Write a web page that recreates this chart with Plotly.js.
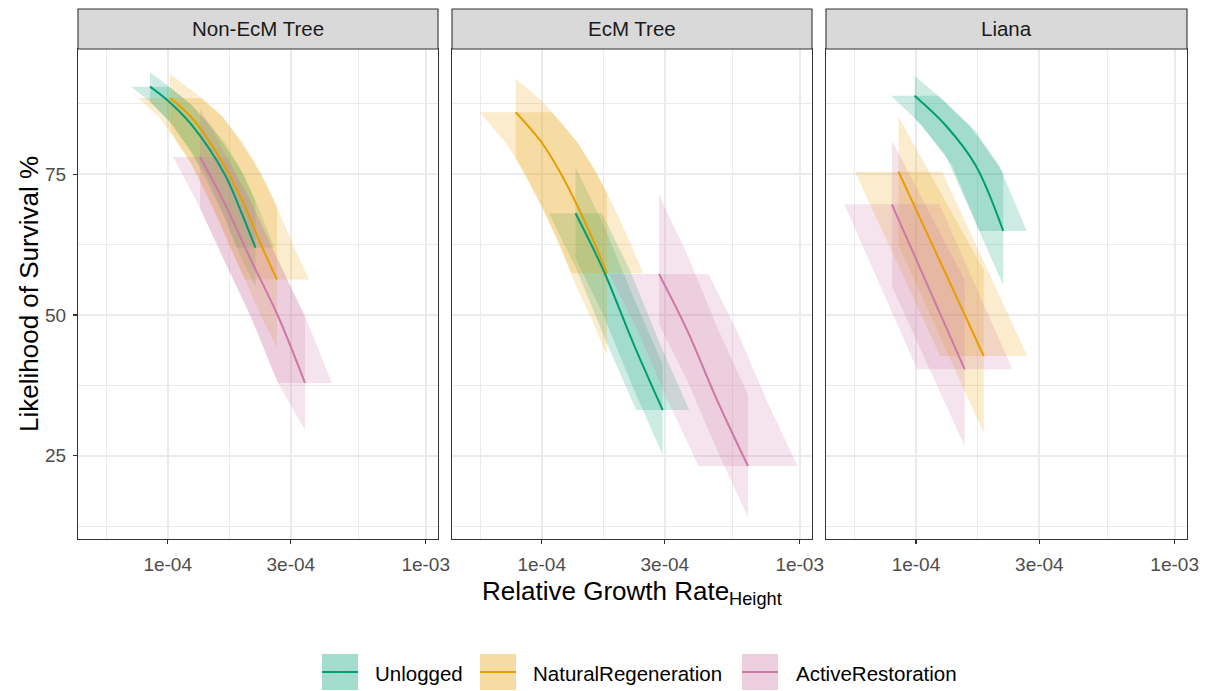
<!DOCTYPE html>
<html>
<head>
<meta charset="utf-8">
<script src="https://cdn.plot.ly/plotly-3.0.1.min.js"></script>
<style>
html,body{margin:0;padding:0;background:#fff;}
#chart{width:1207px;height:691px;}
</style>
</head>
<body>
<div id="chart"></div>
<script>
// ---------------- DATA ----------------
const panels = ['Non-EcM Tree', 'EcM Tree', 'Liana'];
const groups = ['Unlogged', 'NaturalRegeneration', 'ActiveRestoration'];
const groupColors = ['#009E73', '#E69F00', '#CC79A7'];
const xTickVals = [1e-4, 3e-4, 1e-3];
const xTickText = ['1e-04', '3e-04', '1e-03'];
const yTickVals = [25, 50, 75];

// Non-EcM Tree
const nonEcm_Unlogged_x   = [8.54e-5, 1.005e-4, 1.239e-4, 1.668e-4, 1.906e-4, 2.189e-4];
const nonEcm_Unlogged_y   = [90.57, 88.02, 83.76, 74.88, 68.83, 61.96];
const nonEcm_Unlogged_yHi = [93.12, 90.69, 87.31, 80.56, 76.12, 70.26];
const nonEcm_Unlogged_yLo = [87.90, 84.65, 78.96, 67.24, 60.66, 54.98];
const nonEcm_Unlogged_xLo = [7.21e-5, 8.48e-5, 1.046e-4, 1.408e-4, 1.609e-4, 1.848e-4];
const nonEcm_Unlogged_xHi = [1.012e-4, 1.191e-4, 1.468e-4, 1.976e-4, 2.258e-4, 2.593e-4];

const nonEcm_Natural_x   = [1.021e-4, 1.242e-4, 1.609e-4, 1.941e-4, 2.320e-4, 2.652e-4];
const nonEcm_Natural_y   = [88.56, 85.00, 77.54, 70.43, 62.08, 56.31];
const nonEcm_Natural_yHi = [92.82, 89.89, 85.54, 80.79, 74.88, 69.19];
const nonEcm_Natural_yLo = [82.87, 76.65, 65.81, 57.46, 49.47, 44.31];
const nonEcm_Natural_xLo = [7.67e-5, 9.34e-5, 1.209e-4, 1.459e-4, 1.744e-4, 1.993e-4];
const nonEcm_Natural_xHi = [1.358e-4, 1.652e-4, 2.141e-4, 2.582e-4, 3.087e-4, 3.529e-4];

const nonEcm_Active_x   = [1.334e-4, 1.638e-4, 2.085e-4, 2.676e-4, 3.405e-4];
const nonEcm_Active_y   = [78.07, 70.43, 60.13, 49.82, 37.92];
const nonEcm_Active_yHi = [86.78, 79.14, 70.43, 59.77, 49.64];
const nonEcm_Active_yLo = [69.01, 60.13, 49.82, 37.92, 29.57];
const nonEcm_Active_xLo = [1.048e-4, 1.287e-4, 1.638e-4, 2.103e-4, 2.676e-4];
const nonEcm_Active_xHi = [1.698e-4, 2.084e-4, 2.653e-4, 3.405e-4, 4.333e-4];

// EcM Tree
const ecm_Unlogged_x   = [1.352e-4, 1.733e-4, 2.265e-4, 2.944e-4];
const ecm_Unlogged_y   = [68.07, 58.00, 44.97, 33.12];
const ecm_Unlogged_yHi = [76.24, 66.17, 53.15, 41.29];
const ecm_Unlogged_yLo = [60.07, 50.00, 36.98, 25.12];
const ecm_Unlogged_xLo = [1.067e-4, 1.368e-4, 1.788e-4, 2.325e-4];
const ecm_Unlogged_xHi = [1.712e-4, 2.195e-4, 2.868e-4, 3.729e-4];

const ecm_Natural_x   = [7.93e-5, 1.003e-4, 1.177e-4, 1.370e-4, 1.581e-4, 1.791e-4];
const ecm_Natural_y   = [86.02, 80.56, 75.41, 69.55, 63.33, 57.41];
const ecm_Natural_yHi = [91.93, 88.02, 84.47, 80.74, 76.30, 71.68];
const ecm_Natural_yLo = [77.90, 69.19, 62.44, 54.80, 48.76, 42.71];
const ecm_Natural_xLo = [5.75e-5, 7.27e-5, 8.54e-5, 9.94e-5, 1.147e-4, 1.299e-4];
const ecm_Natural_xHi = [1.093e-4, 1.383e-4, 1.623e-4, 1.889e-4, 2.180e-4, 2.469e-4];

const ecm_Active_x   = [2.849e-4, 3.658e-4, 4.781e-4, 6.304e-4];
const ecm_Active_y   = [57.29, 47.33, 34.90, 23.17];
const ecm_Active_yHi = [71.32, 60.84, 47.87, 35.79];
const ecm_Active_yLo = [48.40, 38.45, 26.01, 14.11];
const ecm_Active_xLo = [1.831e-4, 2.351e-4, 3.073e-4, 4.052e-4];
const ecm_Active_xHi = [4.432e-4, 5.690e-4, 7.437e-4, 9.807e-4];

// Liana
const liana_Unlogged_x   = [9.88e-5, 1.299e-4, 1.698e-4, 2.174e-4];
const liana_Unlogged_y   = [88.97, 83.76, 76.65, 64.93];
const liana_Unlogged_yHi = [92.52, 87.85, 82.69, 75.23];
const liana_Unlogged_yLo = [85.00, 78.43, 66.52, 55.33];
const liana_Unlogged_xLo = [8.01e-5, 1.053e-4, 1.376e-4, 1.762e-4];
const liana_Unlogged_xHi = [1.219e-4, 1.602e-4, 2.094e-4, 2.681e-4];

const liana_Natural_x   = [8.56e-5, 1.254e-4, 1.828e-4];
const liana_Natural_y   = [75.46, 59.01, 42.71];
const liana_Natural_yHi = [85.23, 71.45, 58.00];
const liana_Natural_yLo = [62.49, 45.68, 29.03];
const liana_Natural_xLo = [5.81e-5, 8.50e-5, 1.240e-4];
const liana_Natural_xHi = [1.262e-4, 1.849e-4, 2.695e-4];

const liana_Active_x   = [8.07e-5, 1.116e-4, 1.543e-4];
const liana_Active_y   = [69.67, 55.01, 40.35];
const liana_Active_yHi = [81.04, 68.51, 56.17];
const liana_Active_yLo = [55.10, 40.80, 26.67];
const liana_Active_xLo = [5.28e-5, 7.30e-5, 1.010e-4];
const liana_Active_xHi = [1.233e-4, 1.705e-4, 2.358e-4];

// table referencing the arrays (panel index, group index)
const series = [
  [0,0,nonEcm_Unlogged_x,nonEcm_Unlogged_y,nonEcm_Unlogged_yHi,nonEcm_Unlogged_yLo,nonEcm_Unlogged_xLo,nonEcm_Unlogged_xHi],
  [0,1,nonEcm_Natural_x,nonEcm_Natural_y,nonEcm_Natural_yHi,nonEcm_Natural_yLo,nonEcm_Natural_xLo,nonEcm_Natural_xHi],
  [0,2,nonEcm_Active_x,nonEcm_Active_y,nonEcm_Active_yHi,nonEcm_Active_yLo,nonEcm_Active_xLo,nonEcm_Active_xHi],
  [1,0,ecm_Unlogged_x,ecm_Unlogged_y,ecm_Unlogged_yHi,ecm_Unlogged_yLo,ecm_Unlogged_xLo,ecm_Unlogged_xHi],
  [1,1,ecm_Natural_x,ecm_Natural_y,ecm_Natural_yHi,ecm_Natural_yLo,ecm_Natural_xLo,ecm_Natural_xHi],
  [1,2,ecm_Active_x,ecm_Active_y,ecm_Active_yHi,ecm_Active_yLo,ecm_Active_xLo,ecm_Active_xHi],
  [2,0,liana_Unlogged_x,liana_Unlogged_y,liana_Unlogged_yHi,liana_Unlogged_yLo,liana_Unlogged_xLo,liana_Unlogged_xHi],
  [2,1,liana_Natural_x,liana_Natural_y,liana_Natural_yHi,liana_Natural_yLo,liana_Natural_xLo,liana_Natural_xHi],
  [2,2,liana_Active_x,liana_Active_y,liana_Active_yHi,liana_Active_yLo,liana_Active_xLo,liana_Active_xHi]
];

// ---------------- LAYOUT HELPERS ----------------
const W = 1207, H = 691;
const PX = v => v / W;
const PY = v => 1 - v / H;
const panelLeft = [78, 452, 826];
const panelRight = [438, 812, 1187];
const panelTop = 49, panelBottom = 539;
const FONT = 'Liberation Sans, Arial, sans-serif';

function rgba(hex, a) {
  const r = parseInt(hex.slice(1,3),16), g = parseInt(hex.slice(3,5),16), b = parseInt(hex.slice(5,7),16);
  return `rgba(${r},${g},${b},${a})`;
}

const traces = [];
const axSuffix = ['', '2', '3'];
// ribbons first
series.forEach(s => {
  const [p, g, x, y, yHi, yLo, xLo, xHi] = s;
  const xa = 'x' + axSuffix[p], ya = 'y' + axSuffix[p];
  const col = groupColors[g];
  // ribbon along y (vertical band, bounded by x range of the line)
  traces.push({
    type: 'scatter', mode: 'lines', xaxis: xa, yaxis: ya,
    x: x.concat(x.slice().reverse()),
    y: yHi.concat(yLo.slice().reverse()),
    fill: 'toself', fillcolor: rgba(col, 0.2), line: {width: 0},
    hoverinfo: 'skip', showlegend: false
  });
  // ribbon along x (horizontal band, bounded by y range of the line)
  traces.push({
    type: 'scatter', mode: 'lines', xaxis: xa, yaxis: ya,
    x: xLo.concat(xHi.slice().reverse()),
    y: y.concat(y.slice().reverse()),
    fill: 'toself', fillcolor: rgba(col, 0.2), line: {width: 0},
    hoverinfo: 'skip', showlegend: false
  });
});
// lines
series.forEach(s => {
  const [p, g, x, y] = s;
  traces.push({
    type: 'scatter', mode: 'lines', xaxis: 'x' + axSuffix[p], yaxis: 'y' + axSuffix[p],
    x: x, y: y, line: {color: groupColors[g], width: 2, shape: 'spline', smoothing: 1.0},
    name: groups[g], showlegend: false
  });
});

const gridCol = '#EBEBEB';
function xAxis(i) {
  return {
    type: 'log', domain: [PX(panelLeft[i]), PX(panelRight[i])],
    range: [-4.3477, -2.9523], anchor: 'y' + axSuffix[i],
    tickmode: 'array', tickvals: xTickVals, ticktext: xTickText,
    ticks: 'outside', ticklen: 4, tickwidth: 1.1, tickcolor: '#333333',
    ticklabelstandoff: 4,
    tickfont: {family: FONT, size: 19, color: '#4D4D4D'},
    showgrid: true, gridcolor: gridCol, gridwidth: 2,
    minor: {tickmode: 'array', tickvals: [5.77e-5, 1.733e-4, 5.48e-4], showgrid: true, gridcolor: gridCol, gridwidth: 1, ticks: ''},
    showline: true, mirror: true, linecolor: '#333333', linewidth: 1.1,
    zeroline: false, fixedrange: true
  };
}
function yAxis(i) {
  return {
    domain: [PY(panelBottom), PY(panelTop)], range: [10.2, 97.26], anchor: 'x' + axSuffix[i],
    tickmode: 'array', tickvals: yTickVals,
    ticks: i === 0 ? 'outside' : '', ticklen: 4, tickwidth: 1.1, tickcolor: '#333333',
    ticklabelstandoff: 3,
    showticklabels: i === 0,
    tickfont: {family: FONT, size: 19, color: '#4D4D4D'},
    showgrid: true, gridcolor: gridCol, gridwidth: 2,
    minor: {tickmode: 'array', tickvals: [12.5, 37.5, 62.5, 87.5], showgrid: true, gridcolor: gridCol, gridwidth: 1, ticks: ''},
    showline: true, mirror: true, linecolor: '#333333', linewidth: 1.1,
    zeroline: false, fixedrange: true
  };
}

const shapes = [];
const annotations = [];
// strips
for (let i = 0; i < 3; i++) {
  shapes.push({type: 'rect', xref: 'paper', yref: 'paper',
    x0: PX(panelLeft[i]), x1: PX(panelRight[i]), y0: PY(49), y1: PY(9),
    fillcolor: '#D9D9D9', line: {color: '#333333', width: 1.1}});
  annotations.push({xref: 'paper', yref: 'paper', x: PX((panelLeft[i] + panelRight[i]) / 2), y: PY(29),
    text: panels[i], showarrow: false, xanchor: 'center', yanchor: 'middle',
    font: {family: FONT, size: 20.5, color: '#1A1A1A'}});
}
// axis titles
annotations.push({xref: 'paper', yref: 'paper', x: PX(632), y: PY(592),
  text: 'Relative Growth Rate<sub>Height</sub>', showarrow: false, xanchor: 'center', yanchor: 'middle',
  font: {family: FONT, size: 26, color: '#000000'}});
annotations.push({xref: 'paper', yref: 'paper', x: PX(29), y: PY(294),
  text: 'Likelihood of Survival %', showarrow: false, textangle: -90, xanchor: 'center', yanchor: 'middle',
  font: {family: FONT, size: 26, color: '#000000'}});
// custom legend
const keyX = [322, 480, 742];
const textX = [373, 531, 794];
for (let g = 0; g < 3; g++) {
  shapes.push({type: 'rect', xref: 'paper', yref: 'paper',
    x0: PX(keyX[g]), x1: PX(keyX[g] + 36), y0: PY(690), y1: PY(654),
    fillcolor: rgba(groupColors[g], 0.36), line: {width: 0}});
  shapes.push({type: 'line', xref: 'paper', yref: 'paper',
    x0: PX(keyX[g]), x1: PX(keyX[g] + 36), y0: PY(672), y1: PY(672),
    line: {color: groupColors[g], width: 2}});
  annotations.push({xref: 'paper', yref: 'paper', x: PX(textX[g]), y: PY(673),
    text: groups[g], showarrow: false, xanchor: 'left', yanchor: 'middle',
    font: {family: FONT, size: 20.5, color: '#000000'}});
}

const layout = {
  width: W, height: H,
  margin: {l: 0, r: 0, t: 0, b: 0},
  paper_bgcolor: '#FFFFFF', plot_bgcolor: '#FFFFFF',
  showlegend: false,
  font: {family: FONT},
  xaxis: xAxis(0), xaxis2: xAxis(1), xaxis3: xAxis(2),
  yaxis: yAxis(0), yaxis2: yAxis(1), yaxis3: yAxis(2),
  shapes: shapes, annotations: annotations
};

Plotly.newPlot('chart', traces, layout, {staticPlot: true, displayModeBar: false});
</script>
</body>
</html>
